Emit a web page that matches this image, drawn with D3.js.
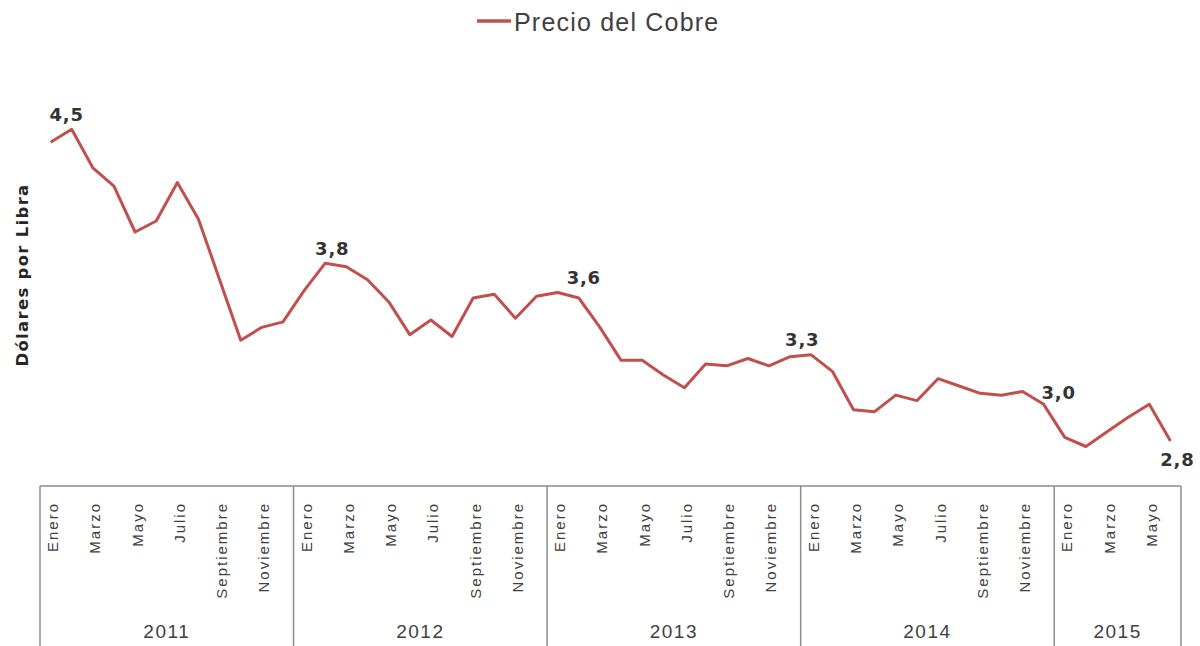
<!DOCTYPE html>
<html>
<head>
<meta charset="utf-8">
<script src="https://cdn.jsdelivr.net/npm/d3@7"></script>
<style>
  body { margin: 0; background: #fff; }
  svg { display: block; }
</style>
</head>
<body>
<svg id="chart" width="1200" height="646"></svg>
<script>
// monthly copper price, Jan 2011 - Jun 2015 (US$ per lb)
const years = [2011, 2012, 2013, 2014, 2015]
const monthsPerYear = [12, 12, 12, 12, 6]
const monthNames = ["Enero", "Febrero", "Marzo", "Abril", "Mayo", "Junio",
                    "Julio", "Agosto", "Septiembre", "Octubre", "Noviembre", "Diciembre"]

const price2011 = [4.43, 4.50, 4.29, 4.19, 3.94, 4.00, 4.21, 4.01, 3.68, 3.35, 3.42, 3.45]
const price2012 = [3.62, 3.77, 3.75, 3.68, 3.56, 3.38, 3.46, 3.37, 3.58, 3.60, 3.47, 3.59]
const price2013 = [3.61, 3.58, 3.42, 3.24, 3.24, 3.16, 3.09, 3.22, 3.21, 3.25, 3.21, 3.26]
const price2014 = [3.27, 3.18, 2.97, 2.96, 3.05, 3.02, 3.14, 3.10, 3.06, 3.05, 3.07, 3.00]
const price2015 = [2.82, 2.77, 2.85, 2.93, 3.00, 2.80]

// which months get a value label (index into the full series)
const labelled = [1, 13, 25, 36, 47, 53]

const seriesName = "Precio del Cobre"
const yTitle = "Dólares por Libra"

//////
let prices = [].concat(price2011, price2012, price2013, price2014, price2015)
let data = []
years.forEach((yr, yi) => {
    for (let m = 0; m < monthsPerYear[yi]; m++) {
        data.push({ year: yr, month: m, name: monthNames[m] })
    }
})
data.forEach((d, i) => d.value = prices[i])

const red = "#c0504d"
const txt = "#404040"
const grid = "#8c8c8c"

let svg = d3.select("#chart")

let left = 40, right = 1181
let axisTop = 486, axisBottom = 646

let x = d3.scaleBand()
    .domain(d3.range(data.length))
    .range([left, right])
    .padding(0)
let cx = i => x(i) + x.bandwidth() / 2

let y = d3.scaleLinear()
    .domain([2.5, 4.6])
    .range([496, 111])

// legend
let lg = svg.append("g")
lg.append("line")
    .attr("x1", 477).attr("x2", 511)
    .attr("y1", 21).attr("y2", 21)
    .attr("stroke", red)
    .attr("stroke-width", 3.5)
lg.append("text")
    .attr("x", 514).attr("y", 31)
    .attr("font-family", "Liberation Sans, Arial, sans-serif")
    .attr("font-size", 25)
    .attr("letter-spacing", 1.2)
    .attr("fill", txt)
    .text(seriesName)

// y title
svg.append("text")
    .attr("transform", "translate(28,275) rotate(-90)")
    .attr("text-anchor", "middle")
    .attr("font-family", "DejaVu Sans, sans-serif")
    .attr("font-weight", "bold")
    .attr("font-size", 16.5)
    .attr("letter-spacing", 1.3)
    .attr("fill", "#262626")
    .text(yTitle)

// category axis, box with year separators
let ax = svg.append("g")
ax.append("line")
    .attr("x1", left).attr("x2", right)
    .attr("y1", axisTop).attr("y2", axisTop)
    .attr("stroke", grid).attr("stroke-width", 1.5)

// boundaries between years
let bounds = [0]
monthsPerYear.forEach((n, i) => bounds.push(bounds[i] + n))
let bx = b => b < data.length ? x(b) : x(data.length - 1) + x.bandwidth()
ax.selectAll("line.sep")
    .data(bounds)
    .join("line")
    .attr("class", "sep")
    .attr("x1", bx)
    .attr("x2", bx)
    .attr("y1", axisTop).attr("y2", axisBottom)
    .attr("stroke", grid).attr("stroke-width", 1.5)

// month labels, every other month
ax.selectAll("text.month")
    .data(data.filter(d => d.month % 2 === 0))
    .join("text")
    .attr("class", "month")
    .attr("transform", d => "translate(" + (cx(data.indexOf(d)) + 7.5) + "," + 502 + ") rotate(-90)")
    .attr("text-anchor", "end")
    .attr("font-family", "Liberation Sans, Arial, sans-serif")
    .attr("font-size", 15)
    .attr("letter-spacing", 2)
    .attr("fill", txt)
    .text(d => d.name)

// year labels
ax.selectAll("text.year")
    .data(years)
    .join("text")
    .attr("class", "year")
    .attr("x", (yr, i) => (bx(bounds[i]) + bx(bounds[i + 1])) / 2)
    .attr("y", 638)
    .attr("text-anchor", "middle")
    .attr("font-family", "Liberation Sans, Arial, sans-serif")
    .attr("font-size", 19)
    .attr("letter-spacing", 1.5)
    .attr("fill", txt)
    .text(yr => yr)

// the line
let line = d3.line()
    .x((d, i) => cx(i))
    .y(d => y(d.value))

svg.append("path")
    .datum(data)
    .attr("d", line)
    .attr("fill", "none")
    .attr("stroke", red)
    .attr("stroke-width", 3)
    .attr("stroke-linejoin", "round")

// value labels, nudged by hand like the original
let nudge = { 1: [-5, -8], 13: [7, -8], 25: [5, -14], 36: [-9, -9], 47: [15, -5], 53: [7, 25] }
let fmt = v => d3.format(".1f")(v).replace(".", ",")

svg.selectAll("text.val")
    .data(labelled)
    .join("text")
    .attr("class", "val")
    .attr("x", i => cx(i) + nudge[i][0])
    .attr("y", i => y(data[i].value) + nudge[i][1])
    .attr("text-anchor", "middle")
    .attr("font-family", "DejaVu Sans, sans-serif")
    .attr("font-weight", "bold")
    .attr("font-size", 18)
    .attr("letter-spacing", 0.8)
    .attr("fill", "#333")
    .text(i => fmt(data[i].value))
</script>
</body>
</html>
